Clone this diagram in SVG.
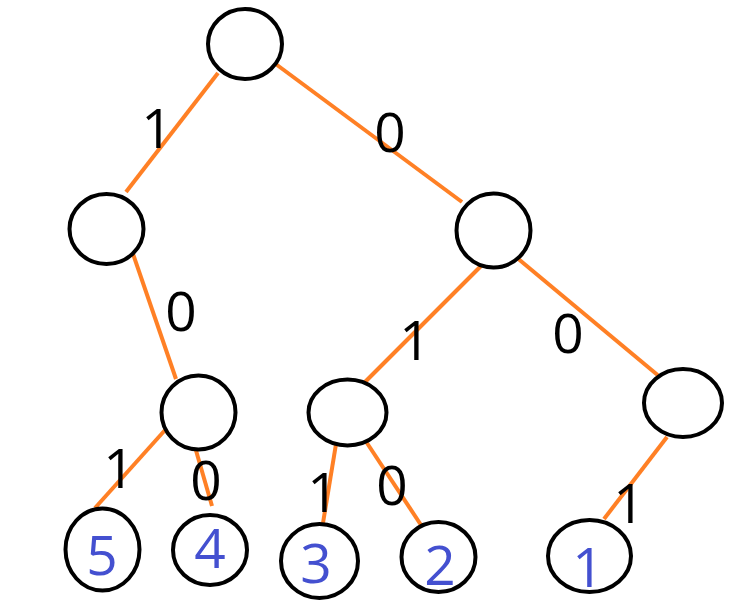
<svg xmlns="http://www.w3.org/2000/svg" width="755" height="614" viewBox="0 0 755 614">
<style>
.e{stroke:#FF8025;stroke-width:4;fill:none}
.n{fill:#fff;stroke:#000;stroke-width:4}
.lb{font-family:"Open Sans","Noto Sans",sans-serif;font-size:55px;fill:#000;text-anchor:middle}
.lf{font-family:"Open Sans","Noto Sans",sans-serif;font-size:55px;fill:#4450D0;text-anchor:middle}
</style>
<rect width="755" height="614" fill="#fff"/>
<g id="connectors">
<line class="e" x1="218" y1="73" x2="126" y2="192"/>
<line class="e" x1="273" y1="62" x2="462" y2="202"/>
<line class="e" x1="132" y1="251" x2="176" y2="379"/>
<line class="e" x1="484" y1="263" x2="365" y2="382"/>
<line class="e" x1="516" y1="257" x2="660" y2="377"/>
<line class="e" x1="166" y1="429" x2="95" y2="508"/>
<line class="e" x1="195" y1="447" x2="212" y2="506"/>
<line class="e" x1="337" y1="438" x2="323" y2="523"/>
<line class="e" x1="365" y1="440" x2="421" y2="525"/>
<line class="e" x1="667" y1="437" x2="604" y2="519"/>
<text class="lb" x="157" y="148">1</text>
<text class="lb" x="390" y="152">0</text>
<text class="lb" x="181" y="331">0</text>
<text class="lb" x="415" y="360">1</text>
<text class="lb" x="568" y="353">0</text>
<text class="lb" x="119" y="488">1</text>
<text class="lb" x="206" y="500">0</text>
<text class="lb" x="323" y="512">1</text>
<text class="lb" x="392" y="505">0</text>
<text class="lb" x="629" y="523">1</text>
</g>
<g id="root"><ellipse class="n" cx="245" cy="44" rx="37" ry="35"/></g>
<g id="n1"><ellipse class="n" cx="106.5" cy="229" rx="37" ry="35"/></g>
<g id="n0"><ellipse class="n" cx="493.5" cy="230.5" rx="37" ry="37"/></g>
<g id="n10"><ellipse class="n" cx="198.5" cy="412.5" rx="37" ry="37"/></g>
<g id="n01"><ellipse class="n" cx="347.5" cy="412.5" rx="39" ry="33"/></g>
<g id="n00"><ellipse class="n" cx="683" cy="403" rx="39" ry="34"/></g>
<g id="leaf5"><ellipse class="n" cx="102.5" cy="549.5" rx="37" ry="41"/><text class="lf" x="102" y="575">5</text></g>
<g id="leaf4"><ellipse class="n" cx="210" cy="550" rx="37" ry="35"/><text class="lf" x="210" y="568">4</text></g>
<g id="leaf3"><ellipse class="n" cx="319.5" cy="561" rx="38.5" ry="37"/><text class="lf" x="316" y="583">3</text></g>
<g id="leaf2"><ellipse class="n" cx="438.5" cy="557" rx="37" ry="35"/><text class="lf" x="440" y="585">2</text></g>
<g id="leaf1"><ellipse class="n" cx="589.5" cy="556" rx="41.5" ry="36"/><text class="lf" x="588" y="587">1</text></g>
</svg>
